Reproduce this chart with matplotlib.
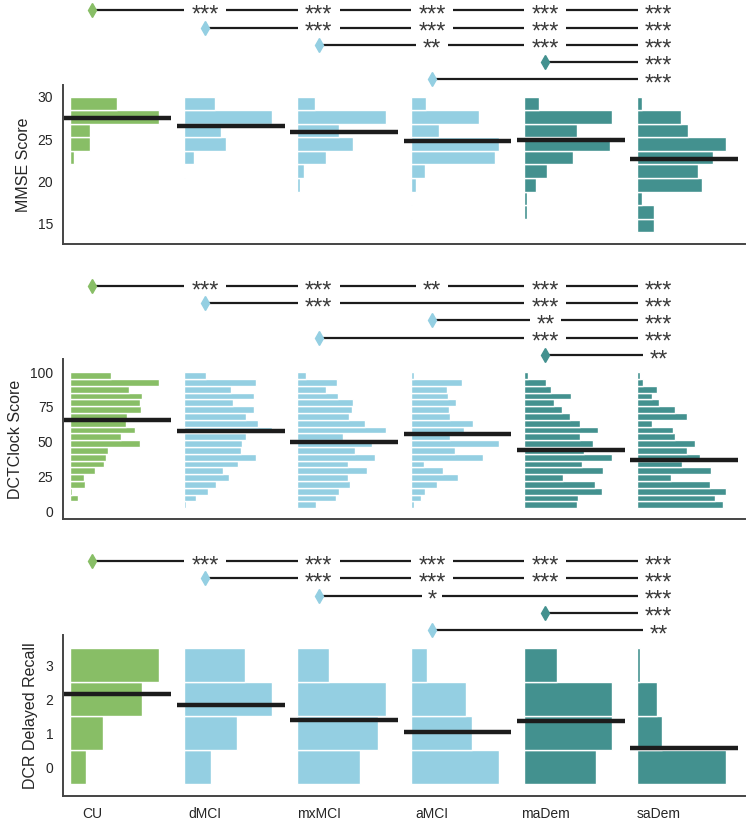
import numpy as np
import matplotlib
matplotlib.use('Agg')
import matplotlib.pyplot as plt

plt.rcParams['font.family'] = ['Liberation Sans', 'DejaVu Sans']

groups = ['CU', 'dMCI', 'mxMCI', 'aMCI', 'maDem', 'saDem']
group_colors = ['#88be66', '#94cfe2', '#94cfe2', '#94cfe2', '#43918f', '#43918f']

# histogram heights per group (low score -> high score), relative counts
mmse_edges = np.linspace(14, 30, 11)
mmse_hist = [
    [0, 0, 0, 0, 0, 10, 60, 60, 268, 140],
    [0, 0, 0, 0, 5, 31, 127, 112, 268, 95],
    [0, 0, 0, 8, 22, 87, 171, 127, 269, 54],
    [0, 6, 0, 16, 45, 257, 269, 86, 207, 48],
    [0, 8, 8, 37, 69, 150, 260, 162, 268, 45],
    [50, 50, 15, 195, 183, 230, 267, 154, 131, 15],
]
mmse_mean = [27.5, 26.6, 25.8, 24.8, 24.9, 22.65]

dct_edges = np.linspace(2, 100, 21)
dct_hist = [
    [0, 22, 5, 45, 42, 75, 103, 109, 115, 210, 152, 196, 170, 173, 213, 210, 216, 178, 268, 123],
    [6, 37, 74, 98, 138, 118, 164, 218, 173, 175, 190, 268, 225, 190, 213, 150, 213, 143, 218, 68],
    [56, 117, 126, 162, 154, 214, 154, 236, 177, 227, 139, 269, 207, 159, 167, 169, 124, 87, 121, 27],
    [12, 33, 44, 79, 143, 99, 42, 219, 134, 267, 120, 160, 189, 120, 117, 137, 114, 110, 154, 9],
    [161, 163, 236, 215, 118, 239, 175, 268, 182, 210, 169, 225, 169, 141, 114, 91, 143, 82, 68, 13],
    [259, 235, 267, 221, 102, 224, 134, 189, 149, 175, 114, 107, 44, 151, 114, 67, 44, 59, 18, 7],
]
dct_mean = [65.6, 57.7, 50.0, 55.5, 43.8, 36.6]

dcr_edges = np.array([-0.5, 0.5, 1.5, 2.5, 3.5])
dcr_hist = [
    [48, 100, 217, 268],
    [83, 161, 268, 185],
    [190, 246, 269, 97],
    [268, 187, 169, 51],
    [219, 266, 268, 100],
    [267, 74, 59, 7],
]
dcr_mean = [2.15, 1.82, 1.38, 1.04, 1.35, 0.575]

# pairwise tests: (reference group, [(other group, stars), ...])
mmse_sig = [
    (0, [(1, '***'), (2, '***'), (3, '***'), (4, '***'), (5, '***')]),
    (1, [(2, '***'), (3, '***'), (4, '***'), (5, '***')]),
    (2, [(3, '**'), (4, '***'), (5, '***')]),
    (4, [(5, '***')]),
    (3, [(5, '***')]),
]
dct_sig = [
    (0, [(1, '***'), (2, '***'), (3, '**'), (4, '***'), (5, '***')]),
    (1, [(2, '***'), (4, '***'), (5, '***')]),
    (3, [(4, '**'), (5, '***')]),
    (2, [(4, '***'), (5, '***')]),
    (4, [(5, '**')]),
]
dcr_sig = [
    (0, [(1, '***'), (2, '***'), (3, '***'), (4, '***'), (5, '***')]),
    (1, [(2, '***'), (3, '***'), (4, '***'), (5, '***')]),
    (2, [(3, '*'), (5, '***')]),
    (4, [(5, '***')]),
    (3, [(5, '**')]),
]

W, H = 750, 822
XLIM = (-0.255, 5.76)
GAP = {'*': 0.09, '**': 0.14, '***': 0.185}


def px_rect(top, bottom, left=63, right=745):
    return [left / W, 1 - bottom / H, (right - left) / W, (bottom - top) / H]


def draw_panel(ax, edges, hist, means, yticks, ylim, label, show_x):
    centers = (edges[:-1] + edges[1:]) / 2
    heights = np.diff(edges)
    for i, h in enumerate(hist):
        h = np.array(h, dtype=float)
        w = 0.78 * h / h.max()
        keep = h > 0
        ax.barh(centers[keep], w[keep], height=heights[keep], left=i - 0.19,
                color=group_colors[i], edgecolor='white', linewidth=1, zorder=2)
        ax.plot([i - 0.25, i + 0.7], [means[i], means[i]], color='#1c1c1c',
                lw=3.2, solid_capstyle='butt', zorder=3)
    ax.set_xlim(*XLIM)
    ax.set_ylim(*ylim)
    ax.set_yticks(yticks)
    ax.set_xticks(range(len(groups)))
    if show_x:
        ax.set_xticklabels(groups)
    else:
        ax.set_xticklabels([])
    ax.tick_params(length=0, labelsize=10, colors='#262626')
    ax.tick_params(axis='y', pad=7)
    ax.tick_params(axis='x', pad=8)
    ax.set_ylabel(label, fontsize=11.5, color='#262626', labelpad=5)
    for s in ['top', 'right']:
        ax.spines[s].set_visible(False)
    for s in ['left', 'bottom']:
        ax.spines[s].set_color('#444444')
        ax.spines[s].set_linewidth(1.4)


def draw_sig(ax, rows):
    for r, (ref, comps) in enumerate(rows):
        # line from the reference diamond, broken where the stars sit
        start = ref
        for t, s in sorted(comps):
            ax.plot([start, t - GAP[s]], [r, r], color='#1c1c1c', lw=1.6,
                    solid_capstyle='butt', zorder=1)
            start = t + GAP[s]
            ax.text(t, r + 0.3, s, ha='center', va='center', fontsize=17,
                    color='#3a3a3a', zorder=2)
        ax.plot(ref, r, marker='d', ms=7.5, color=group_colors[ref], zorder=3,
                clip_on=False)
    ax.set_xlim(*XLIM)
    ax.set_ylim(4.5, -0.5)
    ax.axis('off')


fig = plt.figure(figsize=(W / 100, H / 100), dpi=100)

panels = [
    (85, 244, 10.5, 79, mmse_edges, mmse_hist, mmse_mean, [15, 20, 25, 30],
     (12.6, 31.4), 'MMSE Score', mmse_sig),
    (359, 519, 286, 355, dct_edges, dct_hist, dct_mean, [0, 25, 50, 75, 100],
     (-5.7, 109.5), 'DCTClock Score', dct_sig),
    (635, 796, 561, 630, dcr_edges, dcr_hist, dcr_mean, [0, 1, 2, 3],
     (-0.85, 3.89), 'DCR Delayed Recall', dcr_sig),
]

for k, (top, bot, r0, r4, edges, hist, means, yt, yl, lab, sig) in enumerate(panels):
    ax = fig.add_axes(px_rect(top, bot))
    draw_panel(ax, edges, hist, means, yt, yl, lab, show_x=(k == 2))
    step = (r4 - r0) / 4
    sax = fig.add_axes(px_rect(r0 - step / 2, r4 + step / 2))
    draw_sig(sax, sig)

fig.savefig('out.png', dpi=100)
